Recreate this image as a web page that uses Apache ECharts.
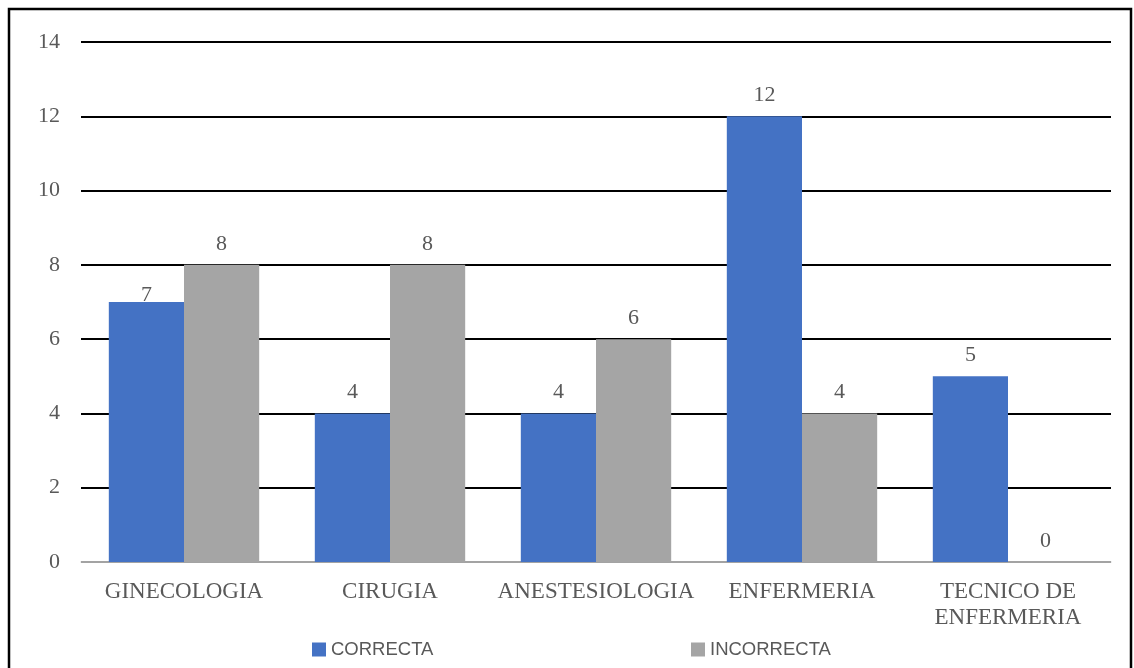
<!DOCTYPE html>
<html>
<head>
<meta charset="utf-8">
<script src="https://cdn.jsdelivr.net/npm/echarts@6/dist/echarts.min.js"></script>
<style>
  html, body { margin: 0; padding: 0; background: #fff; }
  #chart { width: 1134px; height: 668px; }
</style>
</head>
<body>
<div id="chart"></div>
<script>
// Áreas evaluadas y número de respuestas por tipo
const categories = ['GINECOLOGIA', 'CIRUGIA', 'ANESTESIOLOGIA', 'ENFERMERIA', 'TECNICO DE\nENFERMERIA'];
const correcta = [7, 4, 4, 12, 5];
const incorrecta = [8, 8, 6, 4, 0];
const seriesNames = ['CORRECTA', 'INCORRECTA'];
const yTicks = { min: 0, max: 14, interval: 2 };

const serif = '"Liberation Serif", "Times New Roman", serif';
const sans = '"Liberation Sans", Arial, sans-serif';
const textColor = '#595959';

const chart = echarts.init(document.getElementById('chart'), null, { renderer: 'canvas' });

const labelStyle = {
  show: true,
  position: 'top',
  distance: 10,
  fontFamily: serif,
  fontSize: 22,
  color: textColor
};

const legendText = { fontFamily: sans, fontSize: 18.5, color: textColor };

chart.setOption({
  animation: false,
  backgroundColor: '#ffffff',
  graphic: [{
    type: 'rect',
    shape: { x: 9, y: 9, width: 1122, height: 700 },
    style: { fill: 'none', stroke: '#000', lineWidth: 2.5 },
    silent: true
  }],
  grid: { left: 81, right: 23, top: 42, bottom: 106, containLabel: false },
  legend: [
    {
      data: [seriesNames[0]],
      left: 307, top: 635,
      itemWidth: 14, itemHeight: 14,
      icon: 'rect',
      textStyle: legendText
    },
    {
      data: [seriesNames[1]],
      left: 686, top: 635,
      itemWidth: 14, itemHeight: 14,
      icon: 'rect',
      textStyle: legendText
    }
  ],
  xAxis: {
    type: 'category',
    data: categories,
    axisLine: { show: true, lineStyle: { color: '#D9D9D9', width: 1.5 } },
    axisTick: { show: false },
    axisLabel: {
      interval: 0,
      margin: 17,
      fontFamily: serif,
      fontSize: 23,
      lineHeight: 26,
      color: textColor
    }
  },
  yAxis: {
    type: 'value',
    min: yTicks.min,
    max: yTicks.max,
    interval: yTicks.interval,
    axisLine: { show: false },
    axisTick: { show: false },
    splitLine: { show: true, lineStyle: { color: '#000', width: 2 } },
    axisLabel: {
      margin: 21,
      fontFamily: serif,
      fontSize: 22,
      color: textColor
    }
  },
  series: [
    {
      name: seriesNames[0],
      type: 'bar',
      data: correcta.map((v, i) => i === 0 ? { value: v, label: { distance: -4 } } : v),
      itemStyle: { color: '#4472C4' },
      barGap: '0%',
      barCategoryGap: '27%',
      label: labelStyle,
      z: 3
    },
    {
      name: seriesNames[1],
      type: 'bar',
      data: incorrecta,
      itemStyle: { color: '#A5A5A5' },
      barGap: '0%',
      barCategoryGap: '27%',
      label: labelStyle,
      z: 3
    }
  ]
});
</script>
</body>
</html>
